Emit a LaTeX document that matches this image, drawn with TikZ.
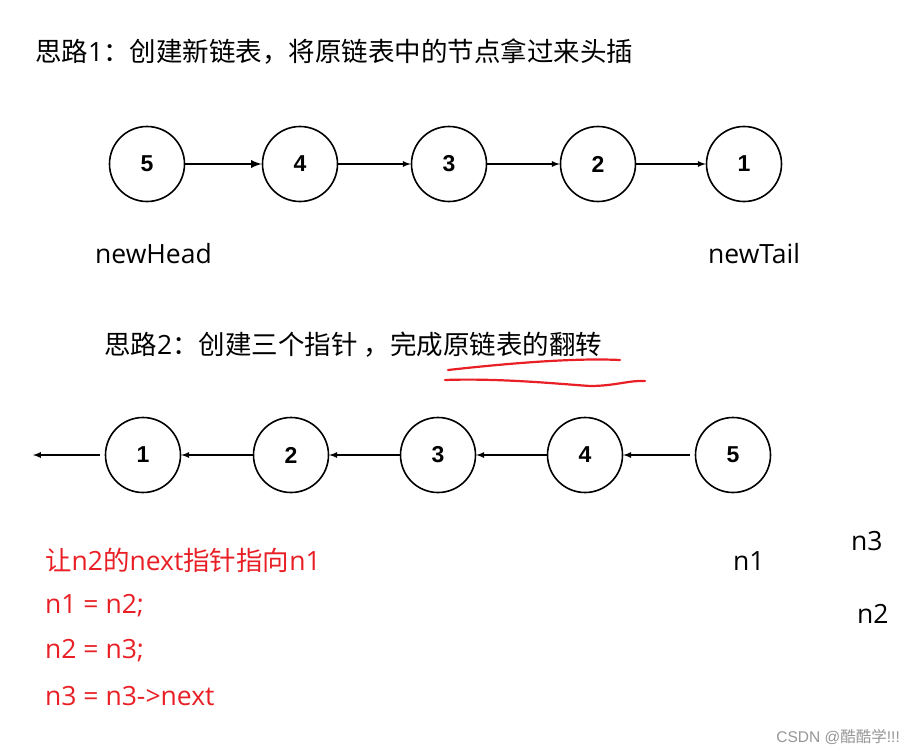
\documentclass[tikz,border=0pt]{standalone}
\usepackage{fontspec}
\setmainfont{Noto Sans CJK SC}
\newfontfamily\numfont{Liberation Sans}
\newfontfamily\latinfont{Open Sans}
\newcommand{\lat}[1]{{\latinfont #1}}
\usetikzlibrary{positioning,arrows,calc}

\definecolor{notered}{RGB}{232,32,38}
\definecolor{markgray}{RGB}{150,150,150}

\tikzset{
  lnode/.style={draw, circle, line width=1.6pt, minimum size=75pt, inner sep=0pt,
    font=\numfont\bfseries\fontsize{23}{23}\selectfont},
  link/.style={line width=1.7pt},
  title/.style={anchor=west, inner sep=0pt, font=\fontsize{26.5}{26.5}\selectfont},
  label/.style={anchor=west, inner sep=0pt, font=\latinfont\fontsize{26.5}{26.5}\selectfont},
  note/.style={anchor=west, inner sep=0pt, text=notered, font=\fontsize{26.5}{26.5}\selectfont},
  pen/.style={notered, line width=2.2pt, line cap=round}
}

\begin{document}
\begin{tikzpicture}[x=1pt,y=-1pt,>=latex]
  \useasboundingbox (0,0) rectangle (915,755);

  % idea 1: head insertion into a new list
  \node[title] (t1) at (35,52) {思路\lat{1}：创建新链表，将原链表中的节点拿过来头插};

  \node[lnode] (a5) at (147,164) {5};
  \node[lnode] (a4) at (300,164) {4};
  \node[lnode] (a3) at (449,164) {3};
  \node[lnode] (a2) at (598,164) {2};
  \node[lnode] (a1) at (744,164) {1};

  \path[->,link,line width=2.6pt] (a5) edge (a4);
  \path[->,link] (a4) edge (a3);
  \path[->,link] (a3) edge (a2);
  \path[->,link] (a2) edge (a1);

  \node[label] (head) at (95,254) {newHead};
  \node[label] (tail) at (708,254) {newTail};

  % idea 2: three pointers
  \node[title] (t2) at (104,345) {思路\lat{2}：创建三个指针 ，完成原链表的翻转};
  \draw[pen] (448,370) .. controls (520,362) and (580,358) .. (620,360);
  \draw[pen] (445,380) .. controls (500,378) and (560,384) .. (590,386)
    .. controls (615,386) and (630,380) .. (645,381);

  \coordinate (end) at (33,455);
  \node[lnode] (b1) at (143,455) {1};
  \node[lnode] (b2) at (291,455) {2};
  \node[lnode] (b3) at (438,455) {3};
  \node[lnode] (b4) at (585,455) {4};
  \node[lnode] (b5) at (733,455) {5};

  \path[->,link] (b1.west) ++(-5,0) edge (end);
  \path[->,link] (b2) edge (b1);
  \path[->,link] (b3) edge (b2);
  \path[->,link] (b4) edge (b3);
  \path[->,link] (b5.west) ++(-5,0) edge (b4);

  \node[note] (s1) at (45,560) {让\lat{n2}的\lat{next}指针指向\lat{n1}};
  \node[note] (s2) at (45,606) {\lat{n1 = n2;}};
  \node[note] (s3) at (45,651) {\lat{n2 = n3;}};
  \node[note] (s4) at (45,696) {\lat{n3 = n3{-}>next}};

  \node[label] (n1) at (733,561) {n1};
  \node[label] (n3) at (851,541) {n3};
  \node[label] (n2) at (857,614) {n2};

  \node[anchor=east, inner sep=0pt, text=markgray, font=\fontsize{15.5}{15.5}\selectfont] (mark) at (900,737) {\numfont CSDN @{\rmfamily 酷酷学}!!!};
\end{tikzpicture}
\end{document}
